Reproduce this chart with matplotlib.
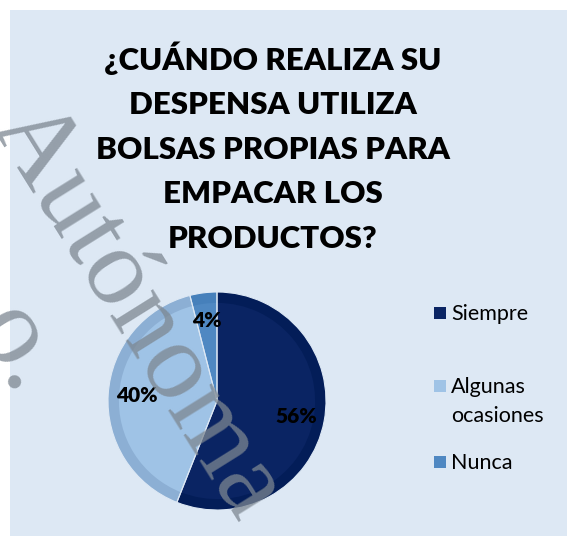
import matplotlib
matplotlib.use("Agg")
import matplotlib.pyplot as plt
from matplotlib.patches import Rectangle

categories = ["Siempre", "Algunas\nocasiones", "Nunca"]
values = [56, 40, 4]
colors = ["#0a2463", "#9fc3e6", "#4f88c2"]
ring_colors = ["#031d58", "#8cafd4", "#4680bb"]
title = "¿CUÁNDO REALIZA SU\nDESPENSA UTILIZA\nBOLSAS PROPIAS PARA\nEMPACAR LOS\nPRODUCTOS?"

W, H = 567, 536
fig = plt.figure(figsize=(W / 100, H / 100), dpi=100)
fig.patch.set_facecolor("white")
fig.patches.append(Rectangle((10 / W, 0), 1, 1 - 10 / H, transform=fig.transFigure,
                             facecolor="#dde8f4", edgecolor="none", zorder=-5))

fig.text(273 / W, 1 - 147 / H, title, ha="center", va="center", fontsize=22.5,
         fontweight="heavy", family="Lato", linespacing=1.72, color="black")

# pie
cx, cy, r = 217, 401, 109
ax = fig.add_axes([(cx - r) / W, 1 - (cy + r) / H, 2 * r / W, 2 * r / H])
ax.patch.set_visible(False)
wedges, texts, autotexts = ax.pie(values, colors=ring_colors, startangle=90, counterclock=False,
       radius=1, autopct="%d%%", pctdistance=0.74,
       wedgeprops=dict(edgecolor="none"),
       textprops=dict(fontsize=15, fontweight="heavy", family="Lato", color="black"))
ax.pie(values, colors=colors, startangle=90, counterclock=False, radius=0.9,
       wedgeprops=dict(edgecolor="none"))
for t in autotexts:
    t.set_zorder(10)
ax.pie(values, startangle=90, counterclock=False, radius=1,
       wedgeprops=dict(edgecolor="#dde8f4", linewidth=0.8, fill=False))
ax.set_xlim(-1, 1); ax.set_ylim(-1, 1); ax.set_aspect("equal"); ax.axis("off")

# legend
leg_y = [313, 386, 462]
for cat, col, y in zip(categories, colors, leg_y):
    fig.patches.append(Rectangle((434 / W, 1 - (y + 6) / H), 12 / W, 12 / H,
                                 transform=fig.transFigure, facecolor=col, edgecolor="none"))
    fig.text(451 / W, 1 - (y - 9) / H, cat, ha="left", va="top", fontsize=15.5,
             family="Lato", color="black", linespacing=1.55)

# watermark
fig.text(137 / W, 1 - 311 / H, "Autónoma", rotation=-58, rotation_mode="anchor",
         ha="center", va="center", fontsize=80, family="Liberation Serif",
         color="#7d8791", alpha=0.75, zorder=20)
fig.text(16 / W, 1 - 350 / H, "o.", rotation=-58, rotation_mode="anchor",
         ha="center", va="center", fontsize=80, family="Liberation Serif",
         color="#7d8791", alpha=0.75, zorder=20)

fig.savefig("out.png", dpi=100)
